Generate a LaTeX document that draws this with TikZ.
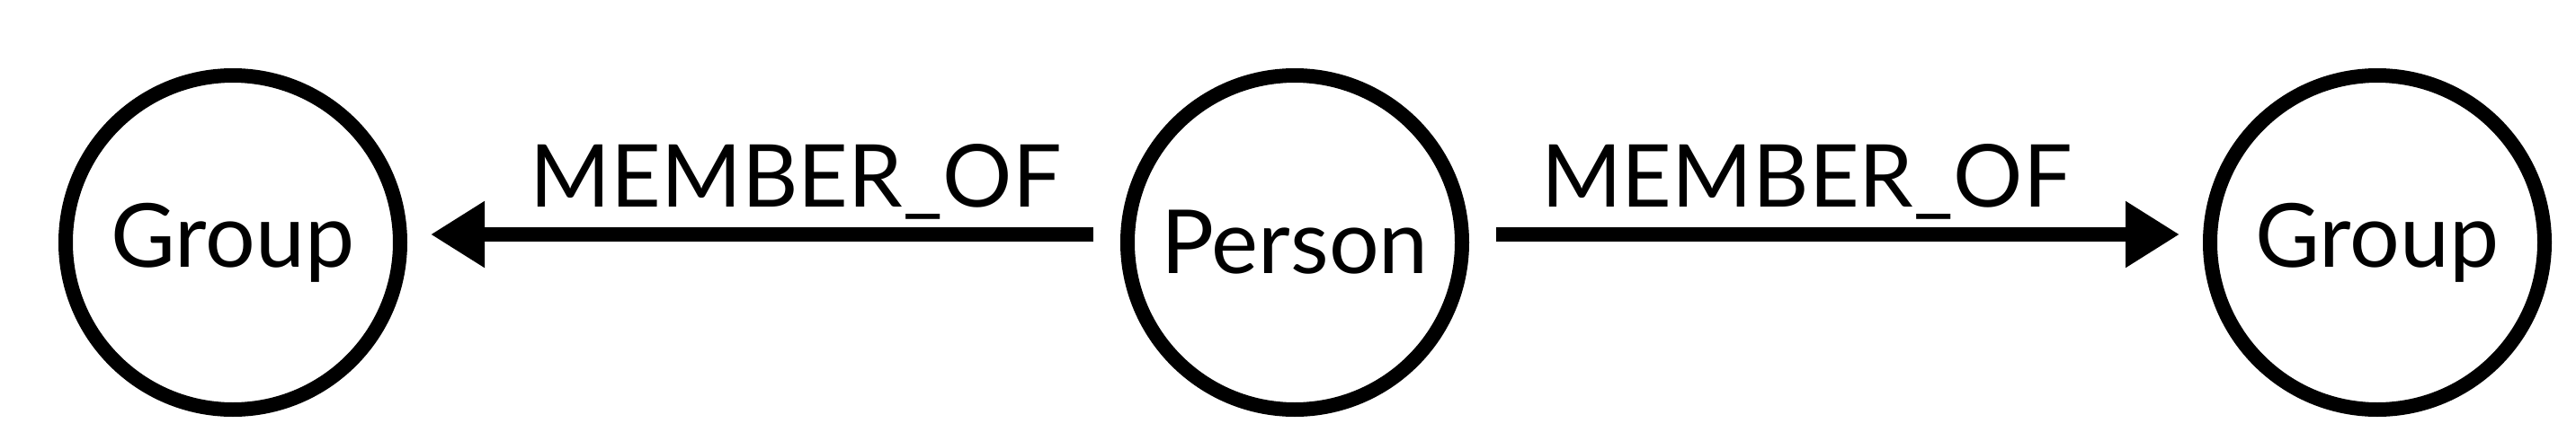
\documentclass[tikz,border=0pt]{standalone}
\usepackage{fontspec}
\setmainfont{Lato}
\usetikzlibrary{
  arrows.meta,
  positioning
}

\begin{document}
\begin{tikzpicture}[
  entity/.style={
    circle, draw=black, line width=1.6mm, fill=white,
    minimum size=37.2mm, inner sep=0pt,
    font=\fontsize{28}{32}\selectfont
  },
  rel/.style={
    -{Triangle[length=6mm, width=7mm]}, line width=1.6mm,
    shorten <=3mm, shorten >=2.6mm
  },
  rellabel/.style={
    font=\fontsize{27.5}{32}\selectfont, anchor=base,
    yshift=3.1mm, inner sep=0pt
  }
]
\useasboundingbox (0,0) rectangle (28.65,4.9);

% Nodes
\node[entity] (person) at (14.40,2.20) {Person};
\node[entity] (groupL) at (2.59,2.20) {Group};
\node[entity] (groupR) at (26.44,2.20) {Group};

% Relationships
\draw[rel] ([yshift=0.9mm]person.west) --
  node[rellabel, pos=0.455] (labL) {MEMBER\_OF} ([yshift=0.9mm]groupL.east);
\draw[rel] ([yshift=0.9mm]person.east) --
  node[rellabel, pos=0.46] (labR) {MEMBER\_OF} ([yshift=0.9mm]groupR.west);

\end{tikzpicture}
\end{document}
